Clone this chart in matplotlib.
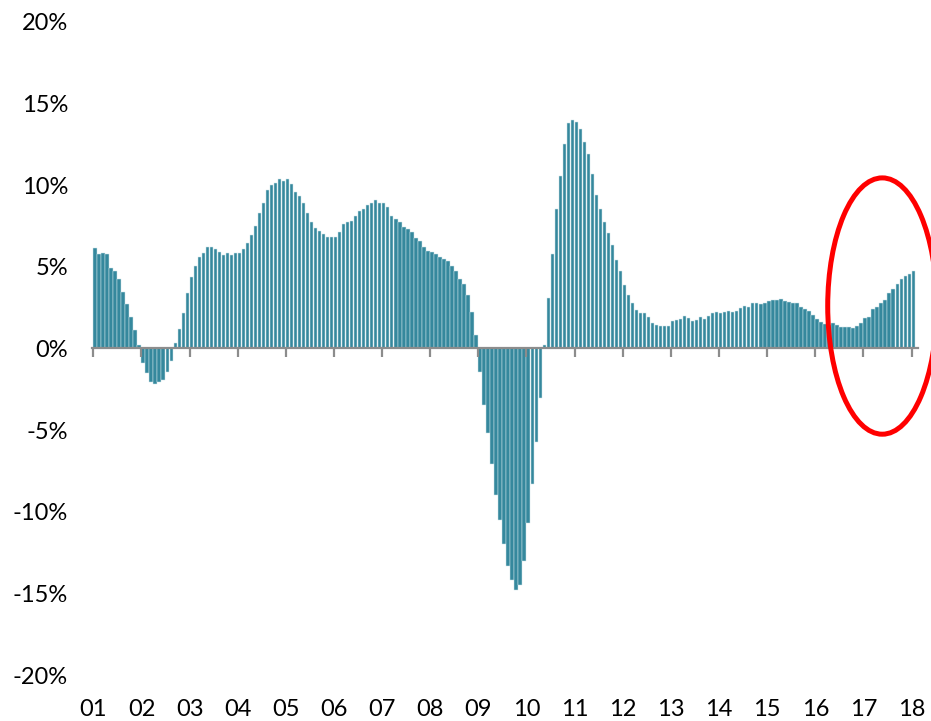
import matplotlib
matplotlib.use("Agg")
import matplotlib.pyplot as plt
from matplotlib.patches import Ellipse
from matplotlib.ticker import FuncFormatter, FixedLocator
import numpy as np
import pandas as pd

plt.rcParams['font.family'] = ['Lato', 'DejaVu Sans']
plt.rcParams['axes.unicode_minus'] = False

# Monthly year-over-year change (%), Jan 2001 .. Jan 2018
months = pd.date_range("2001-01-01", "2018-01-01", freq="MS")
values = [
    # 2001
    6.15, 5.76, 5.88, 5.78, 4.92, 4.76, 4.25, 3.48, 2.72, 1.91, 1.13, 0.21,
    # 2002
    -0.91, -1.48, -2.03, -2.17, -2.07, -1.93, -1.42, -0.76, 0.32, 1.17, 2.19, 3.37,
    # 2003
    4.39, 5.05, 5.58, 5.86, 6.23, 6.19, 6.10, 5.92, 5.74, 5.82, 5.74, 5.86,
    # 2004
    5.82, 6.07, 6.47, 6.98, 7.49, 8.33, 8.94, 9.69, 10.04, 10.12, 10.41, 10.26,
    # 2005
    10.37, 10.06, 9.61, 9.35, 8.94, 8.27, 7.76, 7.39, 7.19, 7.00, 6.80, 6.80,
    # 2006
    6.80, 7.13, 7.63, 7.72, 7.82, 8.12, 8.43, 8.55, 8.78, 8.90, 9.08, 8.94,
    # 2007
    8.92, 8.66, 8.10, 7.94, 7.74, 7.45, 7.31, 7.15, 6.78, 6.57, 6.23, 5.98,
    # 2008
    5.90, 5.76, 5.60, 5.49, 5.35, 5.03, 4.74, 4.27, 3.93, 3.29, 2.25, 0.84,
    # 2009
    -1.44, -3.46, -5.19, -7.08, -8.98, -10.49, -11.96, -13.30, -14.20, -14.81, -14.46, -13.02,
    # 2010
    -10.71, -8.31, -5.74, -3.05, 0.20, 3.09, 5.80, 8.53, 10.59, 12.51, 13.81, 13.99,
    # 2011
    13.85, 13.43, 12.67, 11.92, 10.67, 9.43, 8.55, 7.72, 7.08, 6.31, 5.41, 4.76,
    # 2012
    3.87, 3.25, 2.76, 2.33, 2.17, 2.17, 1.95, 1.58, 1.42, 1.36, 1.36, 1.36,
    # 2013
    1.68, 1.76, 1.80, 2.01, 1.85, 1.70, 1.74, 1.91, 1.82, 2.01, 2.17, 2.23,
    # 2014
    2.15, 2.23, 2.29, 2.21, 2.29, 2.48, 2.58, 2.54, 2.78, 2.76, 2.70, 2.81,
    # 2015
    2.89, 2.97, 3.00, 3.01, 2.93, 2.84, 2.80, 2.78, 2.52, 2.40, 2.31, 2.05,
    # 2016
    1.82, 1.62, 1.48, 1.45, 1.54, 1.46, 1.33, 1.33, 1.33, 1.24, 1.40, 1.56,
    # 2017
    1.87, 1.91, 2.40, 2.52, 2.76, 2.97, 3.38, 3.62, 3.94, 4.27, 4.43, 4.57,
    # 2018
    4.72,
]
year_labels = ["01", "02", "03", "04", "05", "06", "07", "08", "09", "10",
               "11", "12", "13", "14", "15", "16", "17", "18"]
y_ticks = [-20, -15, -10, -5, 0, 5, 10, 15, 20]

# highlighted region (ellipse), in month-index / percent units
highlight_center = (196.7, 2.6)
highlight_size = (27.2, 15.7)

bar_color = "#35889D"
axis_gray = "#8C8C8C"

fig = plt.figure(figsize=(9.31, 7.21), dpi=100)
ax = fig.add_axes([0.0985, 0.0638, 0.8875, 0.9057])

x = np.arange(len(values))
ax.bar(x, values, width=0.84, align="edge", color=bar_color,
       edgecolor="#cfe4ea", linewidth=0.35)

ax.set_xlim(-0.4, 205.6)
ax.set_ylim(-20, 20)

# y axis
ax.yaxis.set_major_locator(FixedLocator(y_ticks))
ax.yaxis.set_major_formatter(FuncFormatter(lambda v, p: f"{int(round(v))}%"))
ax.tick_params(axis="y", length=0, pad=17, labelsize=17, labelcolor="#000000")
for s in ["left", "right", "top"]:
    ax.spines[s].set_visible(False)

# zero axis line with year ticks
year_pos = [months.get_loc(pd.Timestamp(f"20{lab}-01-01")) for lab in year_labels]
ax.spines["bottom"].set_position(("data", 0))
ax.spines["bottom"].set_color(axis_gray)
ax.spines["bottom"].set_linewidth(1.6)
ax.spines["bottom"].set_zorder(3)
ax.set_xticks(year_pos)
ax.tick_params(axis="x", length=6.5, width=1.6, color=axis_gray,
               direction="out", labelbottom=False)

# year labels at the bottom of the plot area
sec = ax.secondary_xaxis("bottom")
sec.set_xticks(year_pos, year_labels)
sec.tick_params(axis="x", length=0, pad=17, labelsize=17, labelcolor="#000000")
sec.spines["bottom"].set_visible(False)

ell = Ellipse(highlight_center, highlight_size[0], highlight_size[1],
              fill=False, edgecolor="#FF0000", linewidth=3.6, clip_on=False,
              zorder=5)
ax.add_patch(ell)

fig.savefig("out.png", dpi=100)
